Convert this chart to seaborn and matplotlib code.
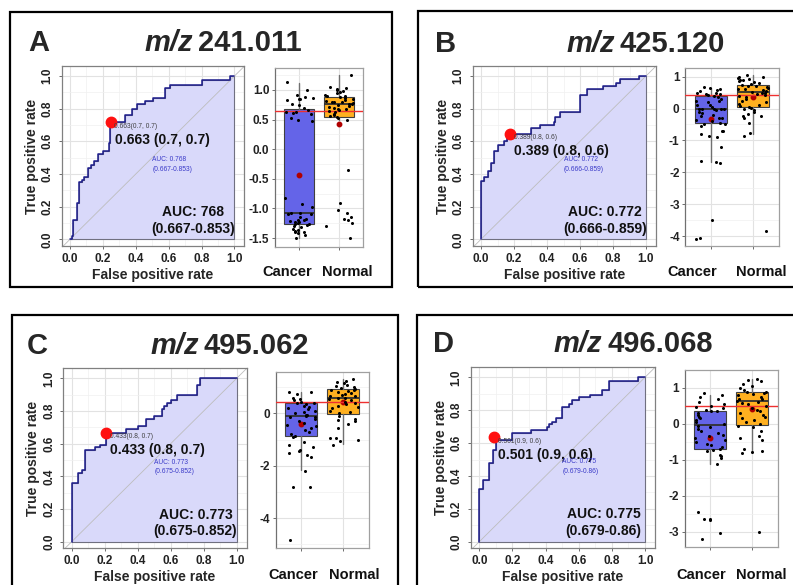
import numpy as np
import pandas as pd
import matplotlib
matplotlib.use("Agg")
import matplotlib.pyplot as plt
from matplotlib.patches import Rectangle
import seaborn as sns

# ---------------- data ----------------
panel_letters = ["A", "B", "C", "D"]
mz_values = ["241.011", "425.120", "495.062", "496.068"]
groups = ["Cancer", "Normal"]

# ROC step curves (fpr, tpr)
fpr_A = [0, 0.01, 0.02, 0.04, 0.055, 0.07, 0.087, 0.111, 0.13, 0.148, 0.168, 0.20, 0.237,
         0.245, 0.334, 0.379, 0.405, 0.455, 0.506, 0.58, 0.608, 0.80, 0.973, 1.0]
tpr_A = [0, 0.02, 0.118, 0.22, 0.35, 0.365, 0.38, 0.435, 0.455, 0.48, 0.52, 0.54, 0.588,
         0.72, 0.761, 0.80, 0.827, 0.845, 0.863, 0.925, 0.945, 0.975, 1.0, 1.0]
fpr_B = [0, 0, 0.02, 0.04, 0.06, 0.08, 0.10, 0.14, 0.16, 0.18, 0.30, 0.36, 0.44, 0.45,
         0.48, 0.60, 0.64, 0.74, 0.82, 0.84, 0.96, 1.0]
tpr_B = [0, 0.355, 0.38, 0.42, 0.465, 0.54, 0.575, 0.60, 0.62, 0.647, 0.68, 0.70, 0.72,
         0.75, 0.78, 0.884, 0.92, 0.94, 0.955, 0.98, 1.0, 1.0]
fpr_C = [0, 0, 0.04, 0.06, 0.08, 0.14, 0.17, 0.21, 0.21, 0.33, 0.40, 0.45, 0.50, 0.55,
         0.56, 0.58, 0.60, 0.64, 0.76, 0.78, 1.0]
tpr_C = [0, 0.36, 0.42, 0.44, 0.56, 0.58, 0.59, 0.61, 0.667, 0.69, 0.71, 0.75, 0.77,
         0.81, 0.83, 0.85, 0.87, 0.90, 0.96, 1.0, 1.0]
fpr_D = [0, 0, 0.02, 0.06, 0.08, 0.10, 0.20, 0.31, 0.41, 0.42, 0.44, 0.46, 0.50, 0.54,
         0.56, 0.60, 0.67, 0.74, 0.78, 0.96, 1.0]
tpr_D = [0, 0.32, 0.375, 0.48, 0.56, 0.62, 0.66, 0.68, 0.70, 0.715, 0.73, 0.75, 0.82,
         0.84, 0.86, 0.88, 0.895, 0.92, 0.98, 1.0, 1.0]

# best threshold points
thresholds = [0.663, 0.389, 0.433, 0.501]
thr_spec = [0.7, 0.8, 0.8, 0.9]
thr_sens = [0.7, 0.6, 0.7, 0.6]
dot_fpr = [0.25, 0.178, 0.21, 0.09]
dot_tpr = [0.716, 0.647, 0.667, 0.635]
auc_big = ["768", "0.772", "0.773", "0.775"]
auc_small = ["0.768", "0.772", "0.773", "0.775"]
auc_ci = ["0.667-0.853", "0.666-0.859", "0.675-0.852", "0.679-0.86"]
cutoff_line = [0.64, 0.41, 0.44, 0.51]

# box statistics: [whislo, q1, median, q3, whishi, mean]
stats_A_cancer = [-1.50, -1.27, -1.08, 0.68, 1.12, -0.44]
stats_A_normal = [0.50, 0.54, 0.76, 0.88, 1.25, 0.42]
stats_B_cancer = [-1.68, -0.46, 0.00, 0.38, 0.63, -0.32]
stats_B_normal = [-0.81, 0.04, 0.53, 0.75, 1.05, 0.35]
stats_C_cancer = [-2.17, -0.87, -0.09, 0.38, 0.83, -0.42]
stats_C_normal = [-1.18, -0.01, 0.60, 0.93, 1.31, 0.45]
stats_D_cancer = [-1.11, -0.70, -0.03, 0.37, 0.81, -0.38]
stats_D_normal = [-0.79, -0.03, 0.63, 0.88, 1.26, 0.42]

# individual samples
pts_A_cancer = [1.13, 1.0, 0.92, 0.88, 0.86, 0.85, 0.84, 0.83, 0.76, 0.74, 0.70, 0.66, 0.63,
                0.62, 0.61, 0.60, 0.52, 0.49, 0.47, -0.83, -0.93, -0.97, -1.08, -1.08, -1.09,
                -1.10, -1.14, -1.18, -1.20, -1.20, -1.21, -1.22, -1.23, -1.25, -1.27, -1.27,
                -1.28, -1.30, -1.32, -1.35, -1.37, -1.38, -1.40, -1.40, -1.42, -1.45, -1.50]
pts_A_normal = [1.25, 1.05, 1.03, 1.02, 1.0, 0.98, 0.97, 0.95, 0.92, 0.90, 0.89, 0.88, 0.87,
                0.85, 0.83, 0.82, 0.80, 0.80, 0.79, 0.78, 0.77, 0.76, 0.75, 0.73, 0.72, 0.70,
                0.68, 0.67, 0.66, 0.65, 0.63, 0.60, 0.58, 0.56, 0.55, 0.53, 0.50, -0.35, -0.90,
                -1.02, -1.07, -1.15, -1.17, -1.20, -1.24, -1.30, -1.50]
pts_B_cancer = [0.66, 0.63, 0.60, 0.58, 0.55, 0.50, 0.48, 0.47, 0.45, 0.42, 0.38, 0.36, 0.30,
                0.25, 0.25, 0.20, 0.12, 0.10, 0.05, 0.0, 0.0, -0.01, -0.02, -0.03, -0.05, -0.10,
                -0.15, -0.20, -0.25, -0.30, -0.30, -0.35, -0.40, -0.45, -0.48, -0.50, -0.55,
                -0.70, -0.72, -0.80, -0.85, -0.90, -1.20, -1.65, -1.68, -1.70, -3.50, -4.05, -4.10]
pts_B_normal = [1.05, 1.0, 0.98, 0.95, 0.93, 0.90, 0.88, 0.85, 0.82, 0.80, 0.78, 0.75, 0.72,
                0.70, 0.68, 0.65, 0.62, 0.60, 0.58, 0.55, 0.53, 0.50, 0.48, 0.45, 0.42, 0.40,
                0.35, 0.30, 0.25, 0.20, 0.15, 0.10, 0.08, 0.05, 0.03, 0.0, -0.05, -0.10, -0.18,
                -0.22, -0.25, -0.30, -0.45, -0.78, -0.85, -3.85]
pts_C_cancer = [0.83, 0.80, 0.72, 0.60, 0.55, 0.50, 0.45, 0.40, 0.38, 0.35, 0.30, 0.25, 0.20,
                0.15, 0.10, 0.05, 0.0, -0.05, -0.08, -0.10, -0.12, -0.15, -0.20, -0.30, -0.35,
                -0.45, -0.50, -0.55, -0.65, -0.70, -0.80, -0.85, -0.90, -1.10, -1.20, -1.30,
                -1.40, -1.45, -1.50, -1.60, -1.65, -2.20, -2.80, -2.80, -4.85]
pts_C_normal = [1.30, 1.25, 1.20, 1.15, 1.10, 1.05, 1.0, 0.95, 0.93, 0.90, 0.88, 0.85, 0.80,
                0.78, 0.75, 0.70, 0.68, 0.65, 0.60, 0.58, 0.55, 0.50, 0.45, 0.40, 0.35, 0.30,
                0.25, 0.20, 0.10, 0.05, 0.0, -0.10, -0.20, -0.25, -0.30, -0.40, -0.55, -0.95,
                -0.95, -1.0, -1.05, -1.20]
pts_D_cancer = [0.85, 0.80, 0.75, 0.70, 0.62, 0.55, 0.50, 0.48, 0.45, 0.40, 0.37, 0.35, 0.30,
                0.25, 0.20, 0.15, 0.10, 0.05, 0.0, -0.05, -0.10, -0.15, -0.20, -0.25, -0.30,
                -0.35, -0.40, -0.45, -0.50, -0.55, -0.60, -0.65, -0.70, -0.72, -0.75, -0.88,
                -0.90, -0.95, -1.12, -2.45, -2.65, -2.65, -2.67, -3.05, -3.20]
pts_D_normal = [1.25, 1.22, 1.20, 1.10, 1.05, 1.0, 0.95, 0.90, 0.88, 0.85, 0.82, 0.80, 0.75,
                0.70, 0.68, 0.65, 0.60, 0.58, 0.55, 0.50, 0.45, 0.40, 0.35, 0.30, 0.25, 0.20,
                0.15, 0.10, 0.05, 0.0, -0.05, -0.10, -0.20, -0.35, -0.40, -0.45, -0.70, -0.75,
                -0.78, -0.80, -3.0]

# box y-axis settings
box_ylims = [(-1.65, 1.37), (-4.31, 1.27), (-5.15, 1.59), (-3.42, 1.49)]
box_major = [[-1.5, -1.0, -0.5, 0.0, 0.5, 1.0], [-4, -3, -2, -1, 0, 1], [-4, -2, 0], [-3, -2, -1, 0, 1]]
box_minor = [list(np.arange(-1.25, 1.3, 0.5)), list(np.arange(-3.5, 1.1, 1.0)),
             [-5, -3, -1, 1], list(np.arange(-2.5, 1.6, 1.0))]
box_fmt = ["{:.1f}", "{:.0f}", "{:.0f}", "{:.0f}"]

# ---------------- layout (pixels) ----------------
W, H = 793, 585
sns.set_theme(style="whitegrid")
plt.rcParams['font.family'] = ['Liberation Sans', 'DejaVu Sans']
plt.rcParams['axes.unicode_minus'] = False
np.random.seed(7)

fig = plt.figure(figsize=(W / 100, H / 100), dpi=100)
fig.patch.set_facecolor("white")


def ax_px(l, t, r, b):
    return fig.add_axes([l / W, 1 - b / H, (r - l) / W, (b - t) / H])


frames = [(10, 12, 392, 287), (418, 11, 805, 287), (12, 315, 398, 600), (417, 315, 805, 600)]
roc_px = [(70, 234.5, 239.3, 76), (481, 646, 239.3, 76), (71.7, 236.7, 541.7, 378.3),
          (479.3, 645, 541.7, 377.3)]
box_px = [(299, 339.3, 68, 247), (710.7, 753.3, 68, 246), (301, 343.3, 371.7, 548.3),
          (710, 752.3, 370, 546.7)]
cat_label_px = [((287.5, 347), 272), ((692, 761), 272), ((293.5, 354), 575), ((701, 761), 575)]
letter_pos = [(28, 43), (435, 44), (27, 346), (433, 344)]
title_split = [(193, 198), (615, 620), (199, 204), (602, 608)]

roc_fprs = [fpr_A, fpr_B, fpr_C, fpr_D]
roc_tprs = [tpr_A, tpr_B, tpr_C, tpr_D]
stats_all = [(stats_A_cancer, stats_A_normal), (stats_B_cancer, stats_B_normal),
             (stats_C_cancer, stats_C_normal), (stats_D_cancer, stats_D_normal)]
pts_all = [(pts_A_cancer, pts_A_normal), (pts_B_cancer, pts_B_normal),
           (pts_C_cancer, pts_C_normal), (pts_D_cancer, pts_D_normal)]

box_colors = ["#6464e8", "#ffb020"]
XL = (-0.05, 1.06)
YL = (-0.04, 1.06)

for i in range(4):
    # frame
    fx0, fy0, fx1, fy1 = frames[i]
    fig.add_artist(Rectangle((fx0 / W, 1 - fy1 / H), (fx1 - fx0) / W, (fy1 - fy0) / H,
                             transform=fig.transFigure, fill=False, ec="black", lw=1.6,
                             clip_on=False))
    # letter & title
    lx, ly = letter_pos[i]
    fig.text(lx / W, 1 - ly / H, panel_letters[i], fontsize=21, fontweight="bold",
             ha="left", va="center")
    sx, nx = title_split[i]
    fig.text(sx / W, 1 - ly / H, "m/z", fontsize=21, fontweight="bold", style="italic",
             ha="right", va="center")
    fig.text(nx / W, 1 - ly / H, mz_values[i], fontsize=21, fontweight="bold",
             ha="left", va="center")

    # ---------- ROC ----------
    x0, x1, y0, y1 = roc_px[i]
    sx_ = x1 - x0
    sy_ = y0 - y1
    ax = ax_px(x0 + XL[0] * sx_, y0 - YL[1] * sy_, x0 + XL[1] * sx_, y0 - YL[0] * sy_)
    ax.set_facecolor("white")
    fpr = roc_fprs[i]
    tpr = roc_tprs[i]
    ax.fill_between(fpr, tpr, 0, step="post", facecolor="#d9d9fa", edgecolor="#707080",
                    lw=0.8, zorder=1)
    ax.axline((0, 0), (1, 1), color="#bdbdbd", lw=0.6, zorder=2)
    df = pd.DataFrame({"fpr": fpr, "tpr": tpr})
    sns.lineplot(data=df, x="fpr", y="tpr", ax=ax, estimator=None, sort=False,
                 drawstyle="steps-post", color="#1c1c8c", lw=1.1, zorder=3)
    ax.plot([dot_fpr[i]], [dot_tpr[i]], marker="o", ms=7.5, color="#ff1010",
            mec="#ff1010", zorder=5, clip_on=False)
    lab = f"{thresholds[i]:.3f}"
    ax.text(dot_fpr[i] + 0.02, dot_tpr[i] - 0.025,
            f"{lab}({thr_spec[i]}, {thr_sens[i]})", fontsize=4.8, color="#404040",
            ha="left", va="center", zorder=6)
    ax.text(dot_fpr[i] + 0.025, dot_tpr[i] - 0.105,
            f"{lab} ({thr_spec[i]}, {thr_sens[i]})", fontsize=10, fontweight="bold",
            color="#111111", ha="left", va="center", zorder=6)
    ax.text(0.5, 0.458, f"AUC: {auc_small[i]}\n({auc_ci[i]})", fontsize=4.8,
            color="#3a3ac8", ha="left", va="center", linespacing=1.5, zorder=6)
    ax.text(0.75, 0.115, f"AUC: {auc_big[i]}\n({auc_ci[i]})", fontsize=10,
            fontweight="bold", color="#111111", ha="center", va="center",
            linespacing=1.25, zorder=6)
    ticks = [0, 0.2, 0.4, 0.6, 0.8, 1.0]
    ax.set_xlim(*XL)
    ax.set_ylim(*YL)
    ax.set_xticks(ticks)
    ax.set_yticks(ticks)
    ax.set_xticks([0.1, 0.3, 0.5, 0.7, 0.9], minor=True)
    ax.set_yticks([0.1, 0.3, 0.5, 0.7, 0.9], minor=True)
    ax.set_xticklabels([f"{t:.1f}" for t in ticks], fontsize=8.5, fontweight="bold",
                       color="#222222")
    ax.set_yticklabels([f"{t:.1f}" for t in ticks], fontsize=8.5, fontweight="bold",
                       color="#222222", rotation=90, va="center")
    ax.grid(True, which="major", color="#e2e2e2", lw=0.8)
    ax.grid(True, which="minor", color="#f0f0f0", lw=0.5)
    ax.set_axisbelow(True)
    ax.tick_params(which="major", length=2.5, width=0.6, color="#555555", pad=2.5,
                   left=True, bottom=True)
    ax.tick_params(which="minor", length=0)
    ax.tick_params(axis="y", pad=3.5)
    for sp in ax.spines.values():
        sp.set_color("#808080")
        sp.set_linewidth(0.9)
    ax.set_xlabel("False positive rate", fontsize=10, fontweight="bold", labelpad=2)
    ax.set_ylabel("True positive rate", fontsize=10, fontweight="bold", labelpad=2)

    # ---------- box ----------
    c0, c1, bt, bb = box_px[i]
    unit = c1 - c0
    bax = ax_px(c0 - 0.6 * unit, bt, c1 + 0.6 * unit, bb)
    bax.set_facecolor("white")
    bstats = []
    for s in stats_all[i]:
        bstats.append(dict(whislo=s[0], q1=s[1], med=s[2], q3=s[3], whishi=s[4],
                           mean=s[5], fliers=[]))
    bp = bax.bxp(bstats, positions=[0, 1], widths=0.75, patch_artist=True,
                 showmeans=True, showfliers=False, showcaps=False, manage_ticks=False,
                 boxprops=dict(edgecolor="#404040", linewidth=0.8),
                 medianprops=dict(color="#303030", linewidth=1.3),
                 whiskerprops=dict(color="#707070", linewidth=1.0),
                 meanprops=dict(marker="o", markerfacecolor="#b00000",
                                markeredgecolor="#b00000", markersize=3.2))
    for patch, col in zip(bp["boxes"], box_colors):
        patch.set_facecolor(col)
        patch.set_zorder(2)
    for k in ("medians", "whiskers", "means"):
        for art in bp[k]:
            art.set_zorder(2.5)
    bax.axhline(cutoff_line[i], color="#ee3030", lw=1.0, zorder=3)
    cancer_pts, normal_pts = pts_all[i]
    pdf = pd.DataFrame({"group": ["Cancer"] * len(cancer_pts) + ["Normal"] * len(normal_pts),
                        "value": cancer_pts + normal_pts})
    sns.stripplot(data=pdf, x="group", y="value", order=groups, jitter=0.36,
                  color="black", size=2.2, linewidth=0, ax=bax, zorder=4)
    bax.set_xlim(-0.6, 1.6)
    bax.set_ylim(*box_ylims[i])
    bax.set_xticks([0, 1])
    bax.set_xticklabels(["", ""])
    (cx_c, cx_n), cy = cat_label_px[i]
    for gname, cx in zip(groups, (cx_c, cx_n)):
        fig.text(cx / W, 1 - cy / H, gname, fontsize=10.5, fontweight="bold",
                 color="#111111", ha="center", va="center")
    bax.set_yticks(box_major[i])
    bax.set_yticks(box_minor[i], minor=True)
    bax.set_yticklabels([box_fmt[i].format(v) for v in box_major[i]], fontsize=8.5,
                        fontweight="bold", color="#222222")
    bax.grid(True, which="major", color="#e2e2e2", lw=0.8)
    bax.grid(True, which="minor", axis="y", color="#f0f0f0", lw=0.5)
    bax.xaxis.grid(True, which="major", color="#e2e2e2", lw=0.8)
    bax.set_axisbelow(True)
    bax.tick_params(axis="x", which="major", length=2.5, width=0.6, color="#555555",
                    bottom=True)
    bax.tick_params(axis="y", which="major", length=2.5, width=0.6, color="#555555",
                    pad=1.5, left=True)
    bax.tick_params(which="minor", length=0)
    bax.set_xlabel("")
    bax.set_ylabel("")
    for name, sp in bax.spines.items():
        sp.set_color("#a0a0a0")
        sp.set_linewidth(0.9)
    bax.spines["left"].set_color("#707070")

fig.savefig("out.png", dpi=100, facecolor="white")
